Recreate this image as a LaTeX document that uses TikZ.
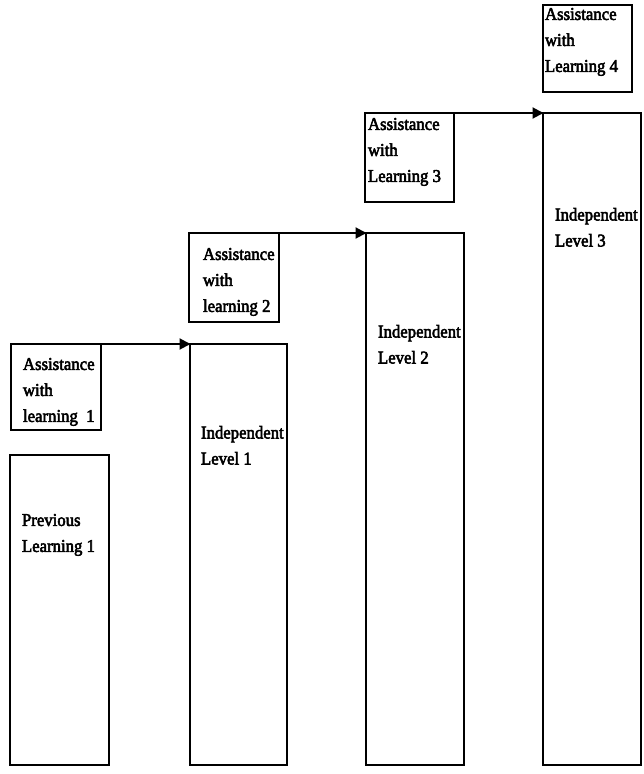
\documentclass[tikz,border=0pt]{standalone}
\usepackage{fontspec}
\setmainfont{Liberation Serif}[FakeBold=3,FakeStretch=0.93]
\usetikzlibrary{arrows.meta}
\tikzset{
  bar/.style={draw=black, line width=2pt, rectangle, inner sep=0pt, outer sep=0pt, anchor=north west},
  lbl/.style={anchor=north west, inner sep=0pt, outer sep=0pt, align=left, font=\fontsize{18}{26}\selectfont},
  conn/.style={draw=black, line width=2pt, -{Triangle[length=11pt,width=11pt]}, shorten >=-0.5pt}
}
\begin{document}
\begin{tikzpicture}[x=1pt,y=-1pt]
\useasboundingbox (0,0) rectangle (644,774);
% boxes
\node[bar, minimum width=99pt, minimum height=310pt] (p1) at (10,455) {};
\node[bar, minimum width=90pt, minimum height=86pt] (a1) at (11,344) {};
\node[bar, minimum width=97pt, minimum height=421pt] (i1) at (190,344) {};
\node[bar, minimum width=90pt, minimum height=89pt] (a2) at (189,233) {};
\node[bar, minimum width=98pt, minimum height=532pt] (i2) at (366,233) {};
\node[bar, minimum width=89pt, minimum height=89pt] (a3) at (365,113) {};
\node[bar, minimum width=98pt, minimum height=652pt] (i3) at (543,113) {};
\node[bar, minimum width=89pt, minimum height=87pt] (a4) at (543,5) {};
% texts
\node[lbl] (tp1) at (22,514) {Previous\\Learning 1};
\node[lbl] (ta1) at (23,358) {Assistance\\with\\learning\ \ 1};
\node[lbl] (ti1) at (201,426) {Independent\\Level 1};
\node[lbl] (ta2) at (203,248) {Assistance\\with\\learning\ 2};
\node[lbl] (ti2) at (378,325) {Independent\\Level 2};
\node[lbl] (ta3) at (368,118) {Assistance\\with\\Learning 3};
\node[lbl] (ti3) at (555,208) {Independent\\Level 3};
\node[lbl] (ta4) at (545,8) {Assistance\\with\\Learning 4};
% connectors
\draw[conn] (a1.north east) -- (i1.north west);
\draw[conn] (a2.north east) -- (i2.north west);
\draw[conn] (a3.north east) -- (i3.north west);
\end{tikzpicture}
\end{document}
